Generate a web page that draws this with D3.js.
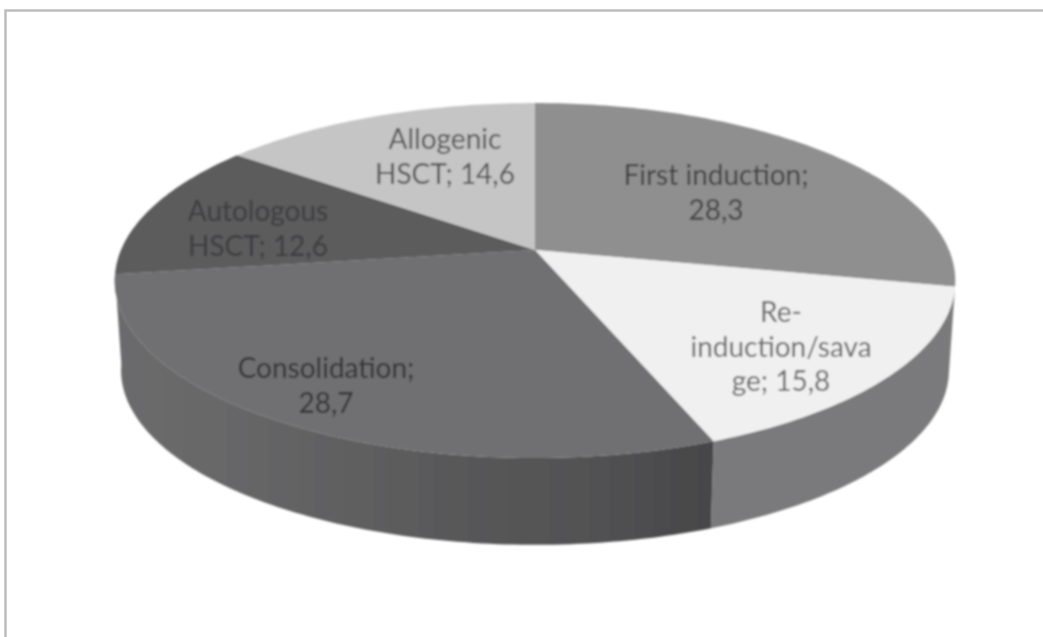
<!DOCTYPE html>
<meta charset="utf-8">
<style>
body { margin: 0; background: #fff; }
svg { display: block; }
.label { font-family: Lato, sans-serif; font-size: 28px; text-anchor: middle; }
.frame { fill: none; stroke: #bdbdc1; stroke-width: 2.5px; }
</style>
<svg width="1043" height="637"></svg>
<script src="https://d3js.org/d3.v7.min.js"></script>
<script>
var categories = ["First induction", "Re-induction/savage", "Consolidation", "Autologous HSCT", "Allogenic HSCT"];
var values = [28.3, 15.8, 28.7, 12.6, 14.6];
var labelLines = [
  ["First induction;", "28,3"],
  ["Re-", "induction/sava", "ge; 15,8"],
  ["Consolidation;", "28,7"],
  ["Autologous", "HSCT; 12,6"],
  ["Allogenic", "HSCT; 14,6"]
];

var topColors = ["#8f8f90", "#f0f0f0", "#707072", "#5c5c5d", "#c5c5c5"];
var textColors = ["#404040", "#666", "#333", "#3c3c3c", "#555"];
var labelPos = [[716, 185], [781, 322], [326, 378], [258, 221], [445, 149]];

var svg = d3.select("svg");
var cx = 535, cy = 250;
var A = 172.2, B = 414, k = 0.172;   // perspective of the tilted disc
var depth = 90, shrink = 0.985;      // lower face of the pie

// angle on the pie -> screen point
function topPoint(a) {
  var u = Math.sin(a), v = -Math.cos(a), w = 1 - k * v;
  return [cx + B * u / w, cy + A * v / w];
}
function bottomPoint(a) {
  var u = Math.sin(a), v = -Math.cos(a), w = 1 - k * v;
  return [cx + shrink * B * u / w, cy + depth + shrink * A * v / w];
}
function steps(a0, a1) {
  var n = Math.max(2, Math.ceil((a1 - a0) * 60));
  return d3.range(n + 1).map(function(i) { return a0 + (a1 - a0) * i / n; });
}

var arcs = d3.pie().sort(null)(values);
var line = d3.line();

var defs = svg.append("defs");
defs.append("filter").attr("id", "soft")
    .attr("x", "-5%").attr("y", "-5%").attr("width", "110%").attr("height", "110%")
  .append("feGaussianBlur").attr("stdDeviation", 0.9);

var grad = defs.append("linearGradient").attr("id", "sideGrad")
    .attr("gradientUnits", "userSpaceOnUse")
    .attr("x1", 115).attr("x2", 712).attr("y1", 0).attr("y2", 0);
[["0%", "#6c6c6d"], ["25%", "#656566"], ["55%", "#59595a"], ["85%", "#505051"], ["100%", "#464647"]].forEach(function(s) {
  grad.append("stop").attr("offset", s[0]).attr("stop-color", s[1]);
});

svg.append("path").attr("class", "frame")
    .attr("d", "M5.5,637V10.5H1043");

var g = svg.append("g").attr("filter", "url(#soft)");

// side walls, only the front facing slices show one
var sideFill = { 1: "#7a7a7c", 2: "url(#sideGrad)" };
[1, 2].forEach(function(i) {
  var d = arcs[i];
  var a = steps(d.startAngle, d.endAngle);
  var pts = a.map(topPoint).concat(a.slice().reverse().map(bottomPoint));
  g.append("path")
      .attr("d", line(pts) + "Z")
      .attr("fill", sideFill[i]);
});

// top face
g.selectAll("path.slice")
    .data(arcs)
  .enter().append("path")
    .attr("class", "slice")
    .attr("fill", function(d) { return topColors[d.index]; })
    .attr("d", function(d) {
      return line([[cx, cy]].concat(steps(d.startAngle, d.endAngle).map(topPoint))) + "Z";
    });

// labels
var lineHeight = 34.5;
var label = g.selectAll("text.label")
    .data(labelLines)
  .enter().append("text")
    .attr("class", "label")
    .attr("x", function(d, i) { return labelPos[i][0]; })
    .attr("y", function(d, i) { return labelPos[i][1]; })
    .attr("fill", function(d, i) { return textColors[i]; });

label.selectAll("tspan")
    .data(function(d) { return d; })
  .enter().append("tspan")
    .attr("x", function() { return d3.select(this.parentNode).attr("x"); })
    .attr("dy", function(d, i) { return i ? lineHeight : 0; })
    .text(function(d) { return d; });
</script>
